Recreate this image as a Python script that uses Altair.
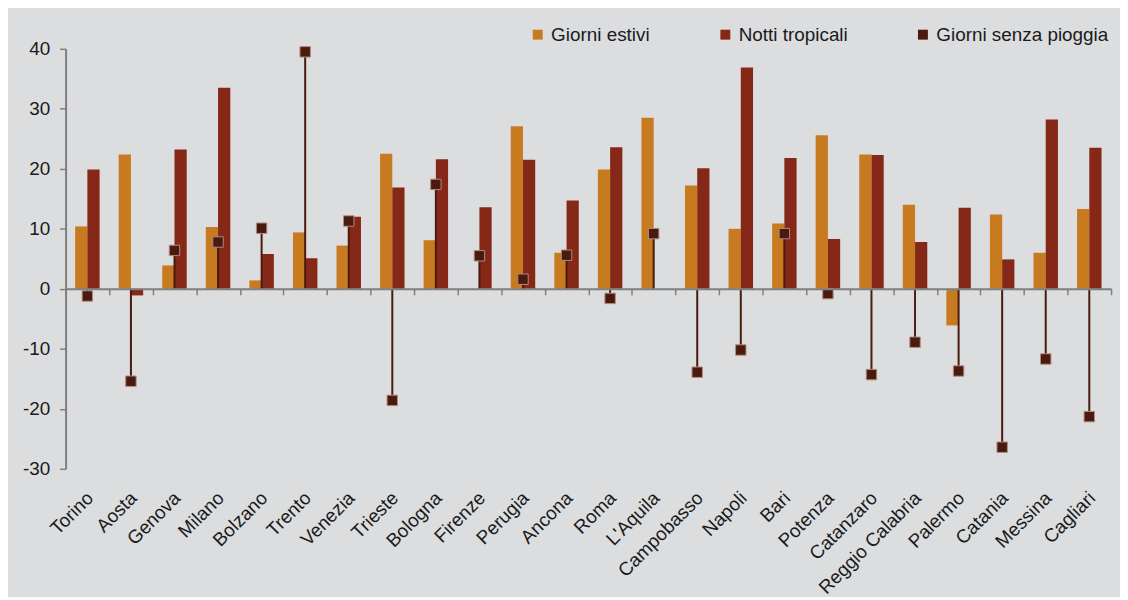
import altair as alt
import pandas as pd

cities = ["Torino", "Aosta", "Genova", "Milano", "Bolzano", "Trento", "Venezia", "Trieste",
          "Bologna", "Firenze", "Perugia", "Ancona", "Roma", "L'Aquila", "Campobasso", "Napoli",
          "Bari", "Potenza", "Catanzaro", "Reggio Calabria", "Palermo", "Catania", "Messina", "Cagliari"]
giorni_estivi = [10.4, 22.4, 3.9, 10.3, 1.4, 9.4, 7.2, 22.5, 8.1, 0.0, 27.1, 6.0,
                 19.9, 28.5, 17.2, 10.0, 10.9, 25.6, 22.4, 14.0, -6.1, 12.4, 6.0, 13.3]
notti_tropicali = [19.9, -1.1, 23.2, 33.5, 5.8, 5.1, 12.0, 16.9, 21.6, 13.6, 21.5, 14.7,
                   23.6, 0.0, 20.1, 36.9, 21.8, 8.3, 22.3, 7.8, 13.5, 4.9, 28.2, 23.5]
giorni_senza_pioggia = [-1.2, -15.4, 6.4, 7.8, 10.1, 39.5, 11.3, -18.6, 17.4, 5.5, 1.6, 5.6,
                        -1.6, 9.2, -13.9, -10.2, 9.2, -0.8, -14.3, -8.9, -13.7, -26.4, -11.7, -21.3]

series = ["Giorni estivi", "Notti tropicali", "Giorni senza pioggia"]
colors = ["#C87A21", "#862817", "#4A1A0F"]

rows = []
for name, vals in zip(series, [giorni_estivi, notti_tropicali, giorni_senza_pioggia]):
    for c, v in zip(cities, vals):
        rows.append({"city": c, "series": name, "value": v})
df = pd.DataFrame(rows)

W, H = 1053, 423
YMIN, YMAX = -30, 40
zero_from_bottom = H * (0 - YMIN) / (YMAX - YMIN)
FONT = "Liberation Sans"
TXT = "#1A1A1A"
GRAY = "#7F7F7F"
FS = 19

x_enc = alt.X(
    "city:N", sort=cities,
    scale=alt.Scale(paddingInner=0, paddingOuter=0),
    axis=alt.Axis(
        title=None, orient="bottom", offset=-zero_from_bottom, tickBand="extent",
        tickSize=6, tickColor=GRAY, tickWidth=1.5, domainColor=GRAY, domainWidth=2,
        labelAngle=-45, labelAlign="right", labelBaseline="top", labelPadding=195,
        labelOffset=-4, labelFontSize=FS, labelFont=FONT, labelColor=TXT, zindex=1,
    ),
)
y_enc = alt.Y(
    "value:Q",
    scale=alt.Scale(domain=[YMIN, YMAX], nice=False, zero=False),
    axis=alt.Axis(
        title=None, values=list(range(-30, 41, 10)), grid=False, tickSize=6,
        tickColor=GRAY, tickWidth=1.5, domainColor=GRAY, domainWidth=2,
        labelFontSize=FS, labelFont=FONT, labelColor=TXT, labelPadding=10,
        labelExpr="replace(datum.label, '\u2212', '-')",
    ),
)
color_enc = alt.Color(
    "series:N",
    scale=alt.Scale(domain=series, range=colors),
    legend=alt.Legend(
        title=None, orient="none", legendX=466, legendY=-24, direction="horizontal",
        columns=3, gridAlign="each", columnPadding=66, symbolType="square",
        symbolSize=100, symbolStrokeWidth=0, labelFontSize=FS, labelFont=FONT,
        labelColor=TXT, labelLimit=400, labelOffset=4, padding=0,
    ),
)

base = alt.Chart(df)

bars = base.transform_filter(
    alt.FieldOneOfPredicate(field="series", oneOf=series[:2])
).mark_bar().encode(
    x=x_enc,
    xOffset=alt.XOffset("series:N", sort=series[:2],
                        scale=alt.Scale(domain=series[:2], paddingInner=0, paddingOuter=0.78)),
    y=y_enc,
    color=color_enc,
)

stems = base.transform_filter(
    alt.datum.series == series[2]
).mark_rule(color="#4A1A0F", strokeWidth=2).encode(
    x=x_enc, y=y_enc, y2=alt.datum(0),
)

markers = base.transform_filter(
    alt.datum.series == series[2]
).mark_square(size=110, opacity=1, stroke="#B08A80", strokeWidth=1).encode(
    x=x_enc, y=y_enc, color=color_enc,
)

chart = alt.layer(bars, stems, markers).properties(
    width=W, height=H,
    autosize=alt.AutoSizeParams(type="none"),
    padding={"left": 58, "top": 39, "right": 9, "bottom": 127},
    background="#DCDDDF",
).configure_view(stroke=None)

chart.save("out.html", embed_options={"renderer": "svg", "actions": False})
